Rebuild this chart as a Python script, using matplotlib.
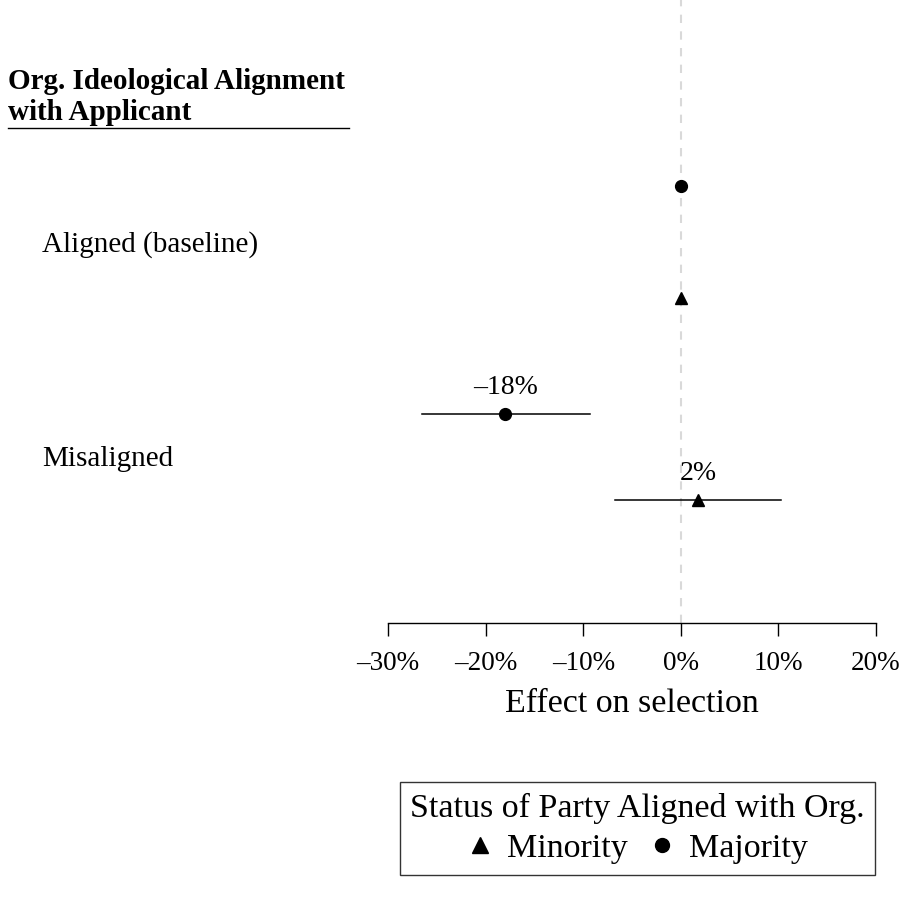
import matplotlib.pyplot as plt
from matplotlib.lines import Line2D
from matplotlib.ticker import FuncFormatter

plt.rcParams.update({
    'font.family': 'Liberation Serif',
    'font.size': 20,
    'axes.unicode_minus': True,
})

# datos
grupos = ['Aligned (baseline)', 'Misaligned']
estado = ['Majority', 'Minority', 'Majority', 'Minority']
efecto = [0.0, 0.0, -18.0, 1.8]
ci_lo = [None, None, -26.5, -6.7]
ci_hi = [None, None, -9.3, 10.3]
etiquetas = [None, None, '\u201318%', '2%']
xticks = [-30, -20, -10, 0, 10, 20]

# posiciones verticales (layout, px desde arriba)
pos_y = [186, 298, 414, 500]
pos_grupo = [245, 459]
MARCADOR = {'Majority': 'o', 'Minority': '^'}

W, H = 900, 899
fig = plt.figure(figsize=(W / 100, H / 100), dpi=100)
ax = fig.add_axes([388 / W, 1 - 623 / H, (876 - 388) / W, 623 / H])
ax.set_xlim(-30, 20)
ax.set_ylim(623, 0)

ax.axvline(0, color='#d9d9d9', linestyle=(0, (4, 4)), linewidth=1.5, zorder=0)

for y, est, e, lo, hi, lab in zip(pos_y, estado, efecto, ci_lo, ci_hi, etiquetas):
    if lo is not None:
        ax.plot([lo, hi], [y, y], color='black', linewidth=1.1, zorder=2)
    ax.plot(e, y, marker=MARCADOR[est], color='black', markersize=8.5,
            linestyle='none', zorder=3)
    if lab:
        ax.text(e, y - 27, lab, ha='center', va='center', fontsize=20)

for s in ['left', 'right', 'top']:
    ax.spines[s].set_visible(False)
ax.spines['bottom'].set_linewidth(1.0)
ax.set_yticks([])
ax.set_xticks(xticks)
ax.xaxis.set_major_formatter(FuncFormatter(
    lambda v, p: f'{int(v)}%'.replace('-', '\u2013')))
ax.tick_params(axis='x', length=9, width=1.0, pad=11, labelsize=19.5)
ax.set_xlabel('Effect on selection', fontsize=24.5, labelpad=9)

# etiquetas de grupo
for g, y in zip(grupos, pos_grupo):
    fig.text(42 / W, 1 - y / H, g, ha='left', va='center', fontsize=21)

fig.text(8 / W, 1 - 97 / H, 'Org. Ideological Alignment\nwith Applicant',
         ha='left', va='center', fontsize=21, fontweight='bold', linespacing=1.15)
fig.add_artist(Line2D([8 / W, 349 / W], [1 - 128 / H, 1 - 128 / H],
                      color='black', linewidth=1.0, transform=fig.transFigure))

handles = [Line2D([], [], marker='^', color='black', linestyle='none', markersize=11),
           Line2D([], [], marker='o', color='black', linestyle='none', markersize=10)]
leg = fig.legend(handles, ['Minority', 'Majority'], ncol=2,
                 title='Status of Party Aligned with Org.',
                 loc='center', bbox_to_anchor=(637.5 / W, 1 - 828.5 / H),
                 fontsize=24.5, title_fontsize=24.5, frameon=True, fancybox=False,
                 edgecolor='black', handletextpad=0.4, columnspacing=0.6,
                 handlelength=0.8, borderpad=0.3, labelspacing=0.2)
leg._legend_box.sep = 7
leg.get_frame().set_linewidth(1.0)

fig.savefig('out.png', dpi=100)
